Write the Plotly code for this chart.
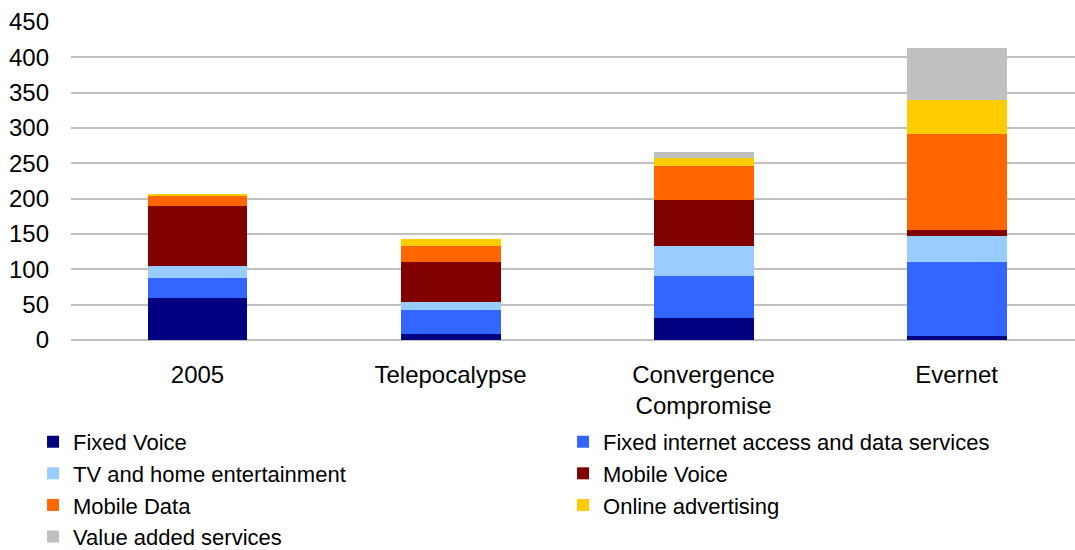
import plotly.graph_objects as go

categories = ["2005", "Telepocalypse", "Convergence<br>Compromise", "Evernet"]

series_names = [
    "Fixed Voice",
    "Fixed internet access and data services",
    "TV and home entertainment",
    "Mobile Voice",
    "Mobile Data",
    "Online advertising",
    "Value added services",
]

fixed_voice = [60, 8.5, 31, 6]
fixed_internet = [28, 34, 59.5, 104]
tv_home = [17, 11, 42.5, 37]
mobile_voice = [85, 57, 65, 8.5]
mobile_data = [14, 22.5, 48, 136]
online_advertising = [3, 10, 11.5, 48.5]
value_added = [0, 0, 8.5, 73]

colors = ["#000080", "#3366ff", "#99ccff", "#800000", "#ff6600", "#ffcc00", "#c0c0c0"]

y_ticks = [0, 50, 100, 150, 200, 250, 300, 350, 400, 450]

all_series = [fixed_voice, fixed_internet, tv_home, mobile_voice,
              mobile_data, online_advertising, value_added]

FONT = "Liberation Sans, Arial, sans-serif"

fig = go.Figure()
for name, vals, col in zip(series_names, all_series, colors):
    fig.add_trace(go.Bar(
        name=name, x=categories, y=vals, marker=dict(color=col, line=dict(width=0)),
        width=0.395,
    ))

fig.update_layout(
    barmode="stack",
    width=1075, height=550,
    margin=dict(l=71, r=0, t=22, b=210, autoexpand=False),
    paper_bgcolor="white", plot_bgcolor="white",
    font=dict(family=FONT, size=24, color="#000000"),
    showlegend=True,
    legend=dict(
        orientation="h",
        xref="paper", yref="paper",
        x=-0.0378, y=-0.2545, xanchor="left", yanchor="top",
        entrywidth=485, entrywidthmode="pixels",
        traceorder="normal",
        font=dict(family=FONT, size=22, color="#000000"),
        itemclick=False,
        tracegroupgap=0,
    ),
    xaxis=dict(
        range=[-0.5, 3.468],
        showgrid=False, showline=False, ticks="",
        tickfont=dict(family=FONT, size=24),
        ticklabelstandoff=18,
    ),
    yaxis=dict(
        range=[0, 450], tickvals=y_ticks,
        showgrid=True, gridcolor="#c0c0c0", gridwidth=1.5,
        zeroline=True, zerolinecolor="#c0c0c0", zerolinewidth=1.5,
        showline=False, ticks="",
        tickfont=dict(family=FONT, size=24),
        ticklabelstandoff=21,
    ),
)

fig.write_html("out.html")
